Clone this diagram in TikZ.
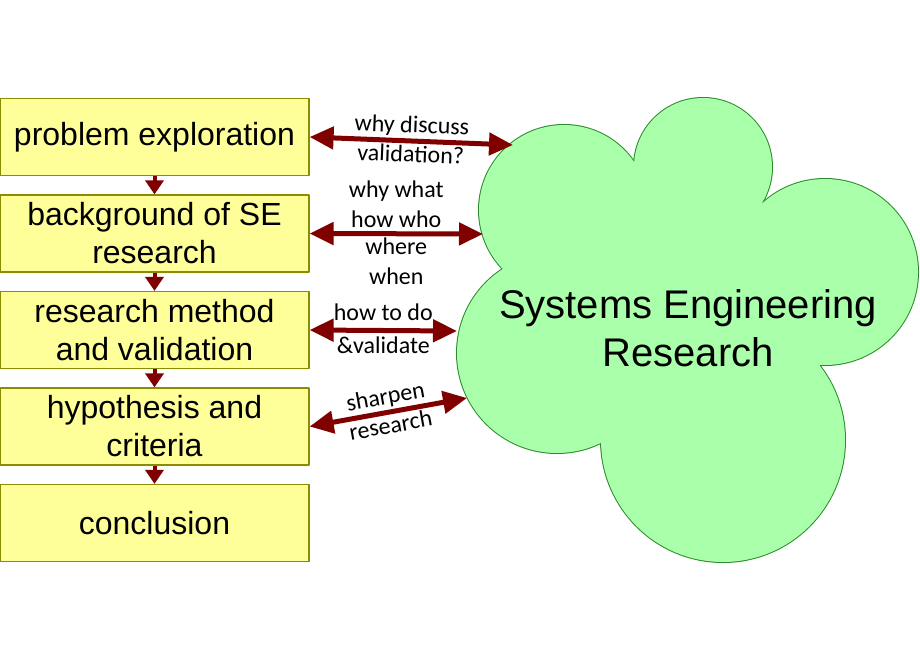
\documentclass[tikz,border=0pt]{standalone}
\usepackage{fontspec}
\setmainfont{Liberation Sans}
\newfontfamily\labelfont{Carlito}
\usetikzlibrary{arrows.meta,positioning}
\definecolor{boxfill}{RGB}{255,255,153}
\definecolor{boxline}{RGB}{140,140,0}
\definecolor{arrowred}{RGB}{128,0,0}
\definecolor{cloudfill}{RGB}{170,255,170}
\definecolor{cloudline}{RGB}{40,140,40}
\begin{document}
\begin{tikzpicture}[x=1pt, y=-1pt, line join=round,
	stepbox/.style={draw=boxline, fill=boxfill, line width=1.2pt, minimum width=309pt, minimum height=77pt, align=center, inner sep=0pt, font=\fontsize{32}{38}\selectfont},
	flow/.style={arrowred, line width=4pt, -{Triangle[width=18pt,length=14pt]}},
	link/.style={arrowred, line width=5pt, {Triangle[width=22pt,length=24pt]}-{Triangle[width=22pt,length=24pt]}},
	lbl/.style={text=black, font=\labelfont\fontsize{24}{29.5}\selectfont, align=center, inner sep=2pt}]
	\useasboundingbox (0,0) rectangle (920,660);
	
	% 1. Cloud: outline first, then the fill hides the inner arcs
	\foreach \cx/\cy/\r in {564/210/85, 703/167/69, 825/272/93, 723/440/122, 557/353/100}
		\draw[cloudline, line width=2pt] (\cx,\cy) circle[radius=\r];
	\foreach \cx/\cy/\r in {564/210/85, 703/167/69, 825/272/93, 723/440/122, 557/353/100}
		\fill[cloudfill] (\cx,\cy) circle[radius=\r];
	\fill[cloudfill] (502,272) -- (640,163) -- (762,202) -- (820,367) -- (603,442) -- cycle;
	\node[font=\fontsize{40}{48}\selectfont, align=center] (ser) at (688,328) {Systems Engineering\\Research};
	
	% 2. Steps on the left
	\node[stepbox] (p1) at (154.5,137) {problem exploration};
	\node[stepbox, below=18.3pt of p1] (p2) {background of SE\\research};
	\node[stepbox, below=18.3pt of p2] (p3) {research method\\and validation};
	\node[stepbox, below=18.3pt of p3] (p4) {hypothesis and\\criteria};
	\node[stepbox, below=18.3pt of p4] (p5) {conclusion};
	\foreach \a/\b in {p1/p2, p2/p3, p3/p4, p4/p5}
		\draw[flow] (\a.south) -- (\b.north);
	
	% 3. Links to the cloud
	\coordinate (c1) at (513,145);
	\coordinate (c2) at (483,234);
	\coordinate (c3) at (457,331);
	\coordinate (c4) at (467,398);
	\draw[link] (p1.east) -- (c1)
		node[lbl, midway, above, sloped] {why discuss}
		node[lbl, midway, below, sloped] {validation?};
	\draw[link] (p2.east) -- (c2)
		node[lbl, midway, above=2pt] {why what\\how who}
		node[lbl, midway, below] {where\\when};
	\draw[link] (p3.east) -- (c3)
		node[lbl, midway, above=5pt] {how to do}
		node[lbl, midway, below=2pt] {\&validate};
	\draw[link] (p4.east) -- (c4)
		node[lbl, midway, above, sloped] {sharpen}
		node[lbl, midway, below, sloped] {research};
	
\end{tikzpicture}
\end{document}
